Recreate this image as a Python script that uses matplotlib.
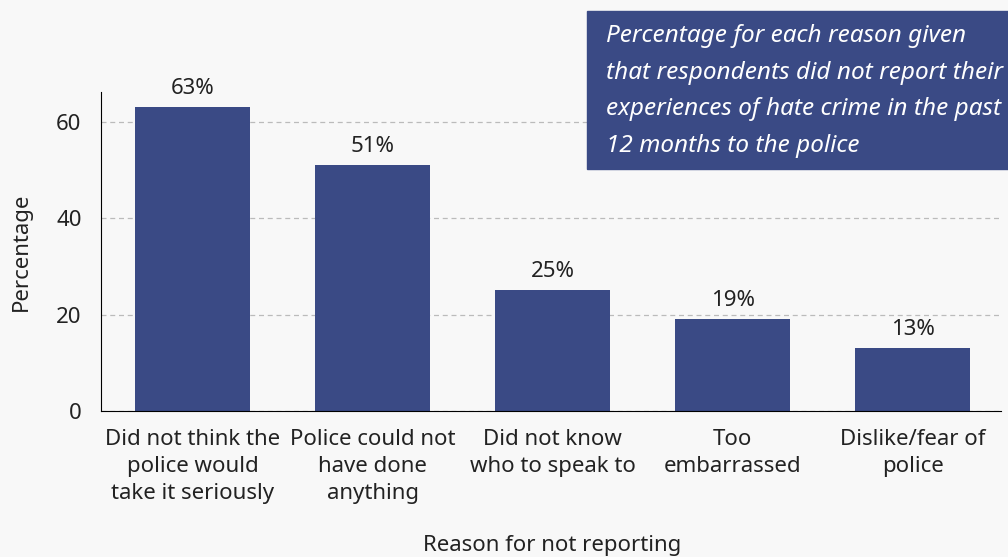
import numpy as np
import matplotlib.pyplot as plt
from matplotlib.patches import Rectangle

reasons = ['Did not think the\npolice would\ntake it seriously',
           'Police could not\nhave done\nanything',
           'Did not know\nwho to speak to',
           'Too\nembarrassed',
           'Dislike/fear of\npolice']
percentages = [63, 51, 25, 19, 13]

bar_color = '#3a4a85'
bg = '#f8f8f8'

plt.rcParams['font.family'] = ['Noto Sans', 'DejaVu Sans']

fig = plt.figure(figsize=(10.08, 5.57), dpi=100, facecolor=bg)
ax = fig.add_axes([101 / 1008, 1 - 411 / 557, 900 / 1008, 319 / 557])
ax.set_facecolor(bg)

x = np.arange(len(reasons))
bars = ax.bar(x, percentages, width=0.64, color=bar_color, zorder=2)
for rect, v in zip(bars, percentages):
    ax.annotate('{}%'.format(v),
                xy=(rect.get_x() + rect.get_width() / 2, rect.get_height()),
                xytext=(0, 6), textcoords='offset points',
                ha='center', va='bottom', fontsize=16, color='#222222')

ax.set_xlim(-0.51, 4.49)
ax.set_ylim(0, 66.15)
ax.set_yticks([0, 20, 40, 60])
ax.set_xticks(x)
ax.set_xticklabels(reasons, fontsize=16, linespacing=1.37)
ax.tick_params(axis='y', labelsize=16, length=0, pad=14, colors='#222222')
ax.tick_params(axis='x', length=0, pad=13, colors='#222222')
ax.yaxis.grid(True, linestyle=(0, (4, 3)), color='#bbbbbb', linewidth=0.9, zorder=0)
ax.spines['top'].set_visible(False)
ax.spines['right'].set_visible(False)
ax.set_ylabel('Percentage', fontsize=16, color='#222222')
ax.yaxis.set_label_coords(-0.077, 0.5)
fig.text(552 / 1008, 1 - 545 / 557, 'Reason for not reporting', fontsize=16,
         ha='center', va='center', color='#222222')

# title box in the top right corner
fig.patches.append(Rectangle((587 / 1008, 1 - 169 / 557), 0.5, 158 / 557,
                             transform=fig.transFigure, color=bar_color, zorder=5))
fig.text(606 / 1008, 1 - 91 / 557,
         'Percentage for each reason given\nthat respondents did not report their\n'
         'experiences of hate crime in the past\n12 months to the police',
         fontsize=17.5, style='italic', color='white', ha='left', va='center',
         linespacing=1.69, zorder=6)

fig.savefig('out.png', dpi=100, facecolor=bg)
